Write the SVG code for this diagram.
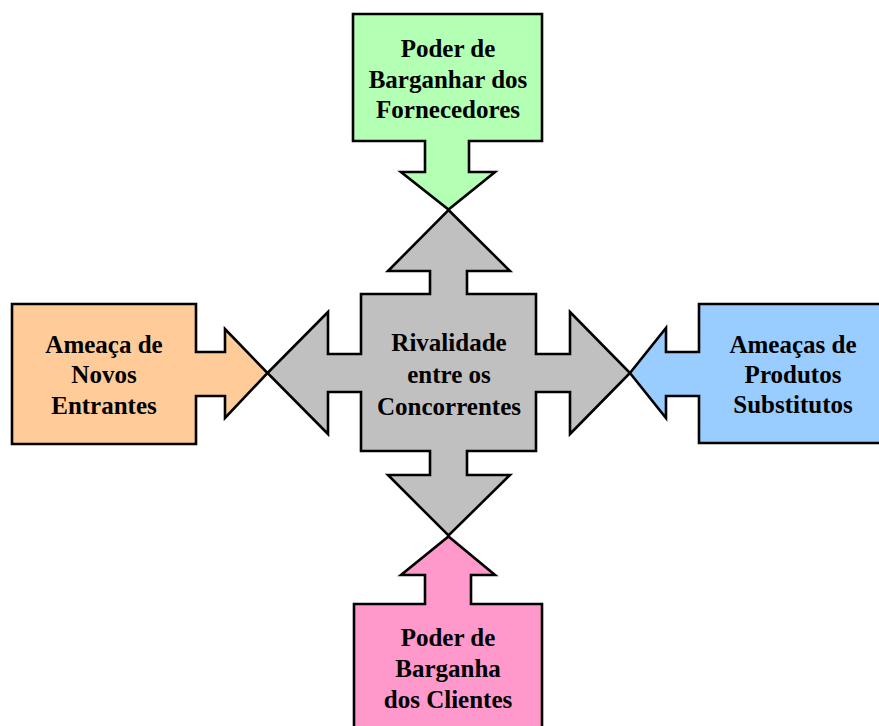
<svg xmlns="http://www.w3.org/2000/svg" width="879" height="726" viewBox="0 0 879 726">
<style>
.s{stroke:#000;stroke-width:2.6;stroke-linejoin:miter;stroke-miterlimit:10}
.t{font-family:"Liberation Serif","Times New Roman",serif;font-weight:bold;font-size:25px;fill:#000;text-anchor:middle}
</style>
<rect width="879" height="726" fill="#fff"/>
<g id="connectors"></g>
<g id="rivalidade">
<path class="s" fill="#C0C0C0" d="M448.5,210 L510,271 H467 V294 H536 V354 H570 V312 L630,373 L570,434 V392 H536 V451 H467 V475 H510 L448.5,535.5 L388,475 H430 V451 H361 V392 H328 V434 L267.5,373 L328,312 V354 H361 V294 H430 V271 H388 Z"/>
<text class="t" x="449" y="351">Rivalidade</text>
<text class="t" x="449" y="383">entre os</text>
<text class="t" x="449" y="415">Concorrentes</text>
</g>
<g id="fornecedores">
<path class="s" fill="#B3FFB3" d="M353,14 H542 V141 H469 V172 H495 L448.5,209.5 L401,172 H425 V141 H353 Z"/>
<text class="t" x="448" y="57">Poder de</text>
<text class="t" x="448" y="88">Barganhar dos</text>
<text class="t" x="448" y="118">Fornecedores</text>
</g>
<g id="entrantes">
<path class="s" fill="#FFCC99" d="M12,304 H196 V352 H225 V329 L267.5,373 L225,418 V396 H196 V444 H12 Z"/>
<text class="t" x="104" y="353">Ameaça de</text>
<text class="t" x="104" y="383">Novos</text>
<text class="t" x="104" y="414">Entrantes</text>
</g>
<g id="substitutos">
<path class="s" fill="#99CCFF" d="M890,304 H699 V352 H666 V328 L630,373 L666,418 V396 H699 V443 H890 Z"/>
<text class="t" x="793" y="353">Ameaças de</text>
<text class="t" x="793" y="383">Produtos</text>
<text class="t" x="793" y="413">Substitutos</text>
</g>
<g id="clientes">
<path class="s" fill="#FF99CC" d="M354,740 V604 H425 V575 H401 L448.5,536.5 L495,575 H471 V604 H542 V740 Z"/>
<text class="t" x="448" y="646">Poder de</text>
<text class="t" x="448" y="677">Barganha</text>
<text class="t" x="448" y="708">dos Clientes</text>
</g>
</svg>
